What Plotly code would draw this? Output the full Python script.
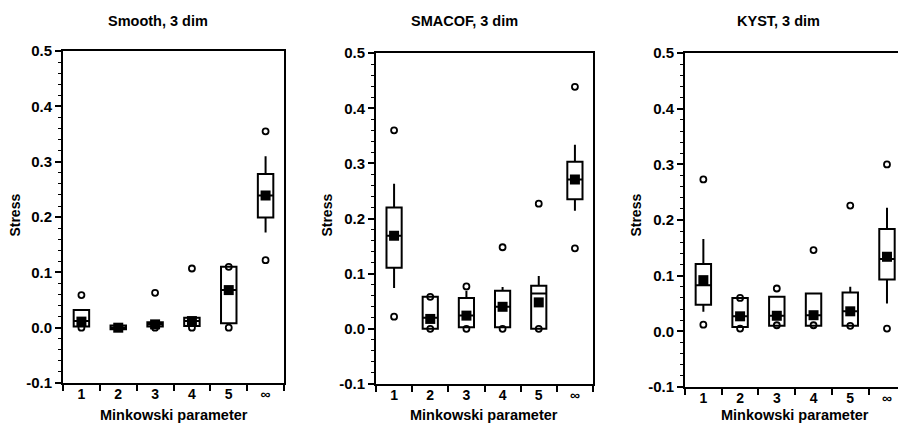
import plotly.graph_objects as go

cats = ["1", "2", "3", "4", "5", "∞"]
titles = ["Smooth, 3 dim", "SMACOF, 3 dim", "KYST, 3 dim"]

# Smooth
sm_q1 = [0.002, -0.003, 0.002, 0.003, 0.008, 0.199]
sm_med = [0.012, 0.0, 0.006, 0.012, 0.068, 0.239]
sm_q3 = [0.032, 0.004, 0.010, 0.018, 0.110, 0.278]
sm_lo = [0.002, -0.003, 0.002, 0.003, 0.008, 0.172]
sm_hi = [0.032, 0.004, 0.010, 0.018, 0.110, 0.310]
sm_mean = [0.011, 0.0, 0.006, 0.012, 0.068, 0.239]
sm_max = [0.059, 0.0, 0.063, 0.107, 0.110, 0.355]
sm_min = [0.0, 0.0, 0.0, 0.0, 0.0, 0.122]

# SMACOF
sc_q1 = [0.111, 0.0, 0.003, 0.003, 0.0, 0.235]
sc_med = [0.169, 0.020, 0.024, 0.040, 0.064, 0.271]
sc_q3 = [0.220, 0.058, 0.056, 0.069, 0.078, 0.303]
sc_lo = [0.074, 0.0, 0.003, 0.003, 0.0, 0.214]
sc_hi = [0.263, 0.058, 0.069, 0.076, 0.096, 0.334]
sc_mean = [0.169, 0.018, 0.024, 0.040, 0.048, 0.271]
sc_max = [0.360, 0.058, 0.077, 0.148, 0.227, 0.439]
sc_min = [0.022, 0.0, 0.0, 0.0, 0.0, 0.146]

# KYST
ky_q1 = [0.048, 0.008, 0.010, 0.010, 0.010, 0.093]
ky_med = [0.083, 0.027, 0.028, 0.029, 0.036, 0.130]
ky_q3 = [0.121, 0.060, 0.062, 0.068, 0.070, 0.184]
ky_lo = [0.035, 0.008, 0.010, 0.010, 0.010, 0.050]
ky_hi = [0.166, 0.060, 0.062, 0.068, 0.080, 0.222]
ky_mean = [0.092, 0.027, 0.028, 0.029, 0.036, 0.134]
ky_max = [0.273, 0.060, 0.077, 0.146, 0.226, 0.300]
ky_min = [0.012, 0.005, 0.011, 0.011, 0.010, 0.005]

ytickvals = [-0.1, 0.0, 0.1, 0.2, 0.3, 0.4, 0.5]
yticktext = ["-0.1", "0.0", "0.1", "0.2", "0.3", "0.4", "0.5"]

panels = [
    (sm_q1, sm_med, sm_q3, sm_lo, sm_hi, sm_mean, sm_max, sm_min),
    (sc_q1, sc_med, sc_q3, sc_lo, sc_hi, sc_mean, sc_max, sc_min),
    (ky_q1, ky_med, ky_q3, ky_lo, ky_hi, ky_mean, ky_max, ky_min),
]

W, H = 898, 432
# the captured picture maps page y to screen y as: y_s = 7.7 + 0.964 * y_page
def fy(y_screen):
    return 1 - ((y_screen - 7.7) / 0.964) / H

xdom_px = [(63, 284), (376, 593), (685, 898)]
ydom_px = [(50, 383), (52, 384), (52, 387)]
xranges = [[-0.5, 5.5], [-0.5, 5.5], [-0.5, 5.3]]

FONT = "Liberation Sans, Arial, sans-serif"
fig = go.Figure()

for i, (q1, med, q3, lo, hi, mean, mx, mn) in enumerate(panels):
    sfx = "" if i == 0 else str(i + 1)
    xa, ya = "x" + sfx, "y" + sfx
    fig.add_trace(go.Box(
        x=cats, q1=q1, median=med, q3=q3, lowerfence=lo, upperfence=hi,
        xaxis=xa, yaxis=ya, width=0.42, whiskerwidth=0,
        fillcolor="white", line=dict(color="black", width=2),
        boxpoints=False, showlegend=False, hoverinfo="skip",
    ))
    fig.add_trace(go.Scatter(
        x=cats, y=mean, xaxis=xa, yaxis=ya, mode="markers",
        marker=dict(symbol="square", size=10, color="black"),
        showlegend=False, hoverinfo="skip",
    ))
    fig.add_trace(go.Scatter(
        x=cats + cats, y=mx + mn, xaxis=xa, yaxis=ya, mode="markers",
        marker=dict(symbol="circle-open", size=6, color="black",
                    line=dict(width=1.8, color="black")),
        showlegend=False, hoverinfo="skip",
    ))
    x0, x1 = xdom_px[i]
    yt, yb = ydom_px[i]
    fig.layout["xaxis" + sfx] = dict(
        domain=[x0 / W, min(x1 / W, 1.0)], anchor=ya, type="category",
        categoryorder="array", categoryarray=cats, range=xranges[i],
        showline=True, linecolor="black", linewidth=2, mirror=True,
        ticks="outside", tickson="boundaries", ticklen=6, tickwidth=1.5,
        tickcolor="black", showgrid=False, zeroline=False,
        ticklabelstandoff=-3,
        tickfont=dict(family=FONT, size=14, color="black", weight="bold"),
    )
    fig.layout["yaxis" + sfx] = dict(
        domain=[fy(yb), fy(yt)], anchor=xa, range=[-0.1, 0.5],
        showline=True, linecolor="black", linewidth=2,
        mirror=(i < 2), ticks="outside", ticklen=6, tickwidth=1.5,
        tickcolor="black", tickvals=ytickvals, ticktext=yticktext,
        showgrid=False, zeroline=False,
        minor=dict(ticks="outside", ticklen=3, tickwidth=1, tickcolor="black",
                   dtick=0.02, tick0=0, showgrid=False),
        tickfont=dict(family=FONT, size=15, color="black", weight="bold"),
    )

title_x = [158, 464, 778]
ytitle_x = [15, 327, 636]
xtitle_x = [174, 484, 795]
for i in range(3):
    fig.add_annotation(text=titles[i], x=title_x[i] / W, y=fy(20),
                       xref="paper", yref="paper", showarrow=False,
                       xanchor="center", yanchor="middle",
                       font=dict(family=FONT, size=14.5, color="black", weight="bold"))
    fig.add_annotation(text="Stress", x=ytitle_x[i] / W, y=fy(215),
                       xref="paper", yref="paper", showarrow=False, textangle=-90,
                       xanchor="center", yanchor="middle",
                       font=dict(family=FONT, size=14, color="black", weight="bold"))
    fig.add_annotation(text="Minkowski parameter", x=xtitle_x[i] / W, y=fy(415),
                       xref="paper", yref="paper", showarrow=False,
                       xanchor="center", yanchor="middle",
                       font=dict(family=FONT, size=14.5, color="black", weight="bold"))

fig.update_layout(
    width=W, height=H, margin=dict(l=0, r=0, t=0, b=0),
    paper_bgcolor="white", plot_bgcolor="white",
    font=dict(family=FONT, color="black"),
)

fig.write_html(
    "out.html",
    config={"displayModeBar": False},
    post_script="document.body.style.margin='0';document.body.style.overflow='hidden';",
)
